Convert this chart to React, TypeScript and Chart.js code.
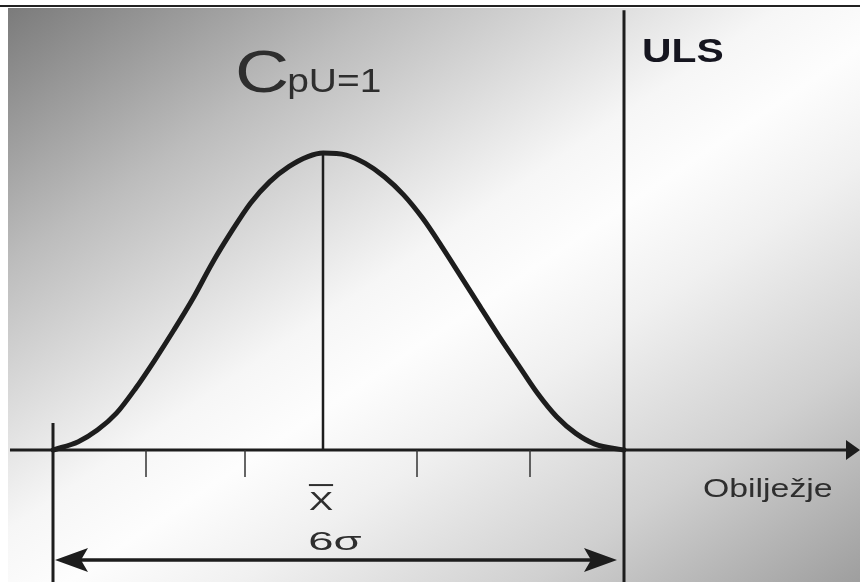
import React, { useEffect, useRef } from "react";
import { Chart, registerables } from "chart.js";

Chart.register(...registerables);

// Normal-curve outline (x in feature units, y = relative density, peak = 1)
const curveX = [5.3, 7.83, 9.74, 11.65, 13.57, 15.48, 17.39, 19.31, 21.22, 23.14, 25.05, 26.96, 28.88, 30.79, 32.32,
  34.62, 36.53, 38.44, 40.36, 42.27, 44.18, 46.1, 48.01, 49.92, 51.84, 53.75, 55.67, 57.58, 59.49, 62.4];
const curveY = [0, 0.028, 0.067, 0.124, 0.208, 0.303, 0.404, 0.511, 0.629, 0.735, 0.831, 0.903, 0.954, 0.988, 1.0,
  0.993, 0.965, 0.92, 0.859, 0.78, 0.685, 0.584, 0.483, 0.382, 0.286, 0.191, 0.112, 0.056, 0.02, 0];

const meanX = 32.3;
const lslX = 5.3;
const ulsX = 62.4;
const tickX = [14.6, 24.5, 41.7, 53.0];
const axisStartX = 1.0;
const axisEndX = 86.0;
const xMin = 0;
const xMax = 86;
const yMin = -0.4444;
const yMax = 1.5152;

const titleMain = "C";
const titleSub = "pU=1";
const limitLabel = "ULS";
const axisLabel = "Obilježje";
const meanLabel = "X";
const spreadLabel = "6σ";

const INK = "#1d1d1d";
const TXT = "#2e2e2e";
const FONT = "'Liberation Sans', Arial, sans-serif";

function stretchedText(ctx: CanvasRenderingContext2D, text: string, x: number, y: number, font: string, sx: number, align: "left" | "center", color: string) {
  ctx.save();
  ctx.font = font;
  ctx.fillStyle = color;
  ctx.textBaseline = "alphabetic";
  ctx.textAlign = "left";
  const w = ctx.measureText(text).width * sx;
  const left = align === "center" ? x - w / 2 : x;
  ctx.translate(left, y);
  ctx.scale(sx, 1);
  ctx.fillText(text, 0, 0);
  ctx.restore();
  return w;
}

function arrowHead(ctx: CanvasRenderingContext2D, tipX: number, y: number, dir: number, len: number, half: number, notch: number) {
  ctx.beginPath();
  ctx.moveTo(tipX, y);
  ctx.lineTo(tipX - dir * len, y - half);
  ctx.lineTo(tipX - dir * (len - notch), y);
  ctx.lineTo(tipX - dir * len, y + half);
  ctx.closePath();
  ctx.fill();
}

const backgroundPlugin = {
  id: "bgGradient",
  beforeDraw(chart: any) {
    const ctx = chart.ctx as CanvasRenderingContext2D;
    const W = chart.width;
    const H = chart.height;
    ctx.save();
    ctx.fillStyle = "#ffffff";
    ctx.fillRect(0, 0, W, H);
    const g = ctx.createLinearGradient(8, 8, 546, 805);
    g.addColorStop(0, "#7b7b7b");
    g.addColorStop(0.22, "#bcbcbc");
    g.addColorStop(0.45, "#f6f6f6");
    g.addColorStop(0.53, "#fdfdfd");
    g.addColorStop(0.63, "#f0f0f0");
    g.addColorStop(0.8, "#d0d0d0");
    g.addColorStop(1, "#9c9c9c");
    ctx.fillStyle = g;
    ctx.fillRect(8, 8, W - 8, H - 8);
    ctx.strokeStyle = "#222";
    ctx.lineWidth = 2;
    ctx.beginPath();
    ctx.moveTo(0, 6);
    ctx.lineTo(W, 6);
    ctx.stroke();
    ctx.restore();
  },
  beforeDatasetsDraw(chart: any) {
    const ctx = chart.ctx as CanvasRenderingContext2D;
    const xs = chart.scales.x;
    const ys = chart.scales.y;
    const px = (v: number) => xs.getPixelForValue(v);
    const py = (v: number) => ys.getPixelForValue(v);
    ctx.save();
    ctx.strokeStyle = INK;
    ctx.fillStyle = INK;
    ctx.lineCap = "butt";
    // horizontal axis
    ctx.lineWidth = 3;
    ctx.beginPath();
    ctx.moveTo(px(axisStartX), py(0));
    ctx.lineTo(px(axisEndX) - 8, py(0));
    ctx.stroke();
    arrowHead(ctx, px(axisEndX), py(0), 1, 14, 10, 0);
    // ULS line
    ctx.lineWidth = 3;
    ctx.beginPath();
    ctx.moveTo(px(ulsX), py(1.481));
    ctx.lineTo(px(ulsX), py(yMin));
    ctx.stroke();
    // left limit of spread
    ctx.beginPath();
    ctx.moveTo(px(lslX), py(0.091));
    ctx.lineTo(px(lslX), py(yMin));
    ctx.stroke();
    // mean line
    ctx.lineWidth = 2.5;
    ctx.beginPath();
    ctx.moveTo(px(meanX), py(1.0));
    ctx.lineTo(px(meanX), py(0));
    ctx.stroke();
    // ticks
    ctx.lineWidth = 1.5;
    ctx.strokeStyle = "#333";
    tickX.forEach((t) => {
      ctx.beginPath();
      ctx.moveTo(px(t), py(0));
      ctx.lineTo(px(t), py(-0.091));
      ctx.stroke();
    });
    // 6 sigma double arrow
    const ay = py(-0.37);
    const aL = px(lslX + 0.2);
    const aR = px(61.7);
    ctx.strokeStyle = INK;
    ctx.lineWidth = 3.5;
    ctx.beginPath();
    ctx.moveTo(aL + 20, ay);
    ctx.lineTo(aR - 20, ay);
    ctx.stroke();
    arrowHead(ctx, aL, ay, -1, 33, 12, 7);
    arrowHead(ctx, aR, ay, 1, 33, 12, 7);
    ctx.restore();
  },
  afterDatasetsDraw(chart: any) {
    const ctx = chart.ctx as CanvasRenderingContext2D;
    const xs = chart.scales.x;
    const ys = chart.scales.y;
    const px = (v: number) => xs.getPixelForValue(v);
    const py = (v: number) => ys.getPixelForValue(v);
    // title C_pU=1
    const cw = stretchedText(ctx, titleMain, px(23.5), py(1.205), `60px ${FONT}`, 1.25, "left", TXT);
    stretchedText(ctx, titleSub, px(23.5) + cw - 2, py(1.205), `33px ${FONT}`, 1.18, "left", TXT);
    // ULS
    stretchedText(ctx, limitLabel, px(64.2), py(1.306), `bold 34px ${FONT}`, 1.2, "left", "#15151f");
    // axis label
    stretchedText(ctx, axisLabel, px(70.3), py(-0.158), `26px ${FONT}`, 1.3, "left", TXT);
    // mean label with bar
    const mw = stretchedText(ctx, meanLabel, px(32.1), py(-0.202), `25px ${FONT}`, 1.45, "center", TXT);
    ctx.save();
    ctx.strokeStyle = TXT;
    ctx.lineWidth = 2;
    ctx.beginPath();
    ctx.moveTo(px(32.1) - mw / 2, py(-0.118));
    ctx.lineTo(px(32.1) + mw / 2, py(-0.118));
    ctx.stroke();
    ctx.restore();
    // 6 sigma label
    stretchedText(ctx, spreadLabel, px(33.5), py(-0.337), `26px ${FONT}`, 1.75, "center", TXT);
  },
};

export default function App() {
  const ref = useRef<HTMLCanvasElement | null>(null);
  useEffect(() => {
    if (!ref.current) return;
    const chart = new Chart(ref.current, {
      type: "line",
      data: {
        datasets: [
          {
            data: curveX.map((x, i) => ({ x, y: curveY[i] })),
            borderColor: INK,
            borderWidth: 5,
            pointRadius: 0,
            fill: false,
            cubicInterpolationMode: "monotone",
            borderCapStyle: "round",
          },
        ],
      },
      options: {
        animation: false,
        responsive: false,
        devicePixelRatio: 1,
        layout: { padding: 0 },
        plugins: { legend: { display: false }, tooltip: { enabled: false }, title: { display: false } },
        events: [],
        scales: {
          x: { type: "linear", min: xMin, max: xMax, display: false },
          y: { type: "linear", min: yMin, max: yMax, display: false },
        },
      },
      plugins: [backgroundPlugin],
    });
    return () => chart.destroy();
  }, []);
  return (
    <div style={{ position: "fixed", left: 0, top: 0, width: 860, height: 582, margin: 0 }}>
      <canvas ref={ref} width={860} height={582} style={{ display: "block" }} />
    </div>
  );
}
